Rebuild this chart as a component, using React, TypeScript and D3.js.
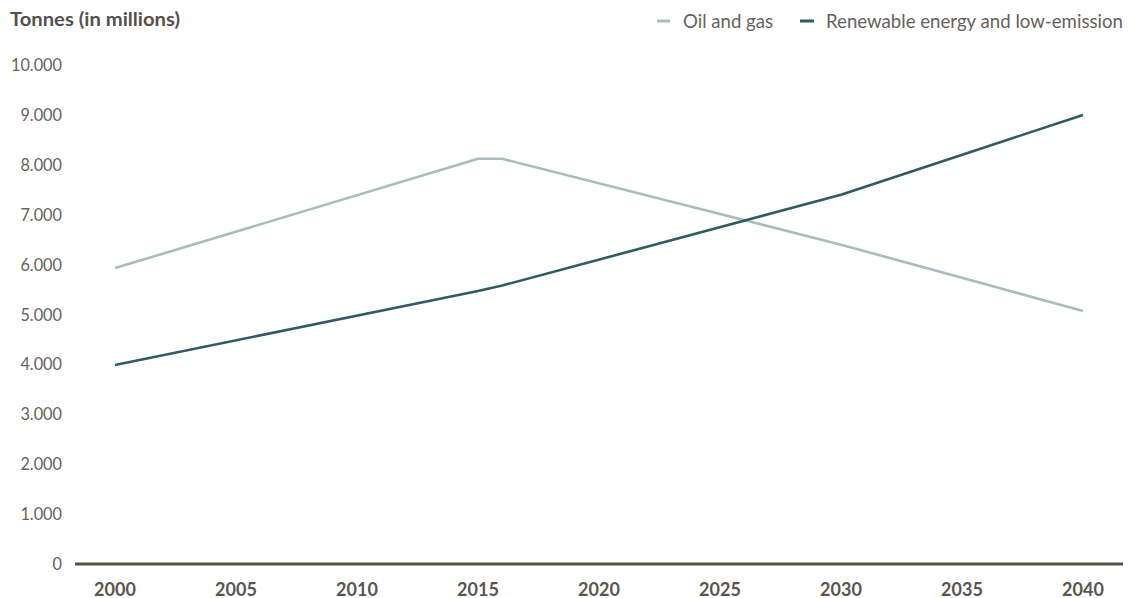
import React from "react";
import * as d3 from "d3";

const years = [2000, 2015, 2016, 2030, 2040];
const oilGas = [5930, 8120, 8120, 6400, 5070];
const renewable = [3990, 5470, 5580, 7400, 9000];
const xTicks = [2000, 2005, 2010, 2015, 2020, 2025, 2030, 2035, 2040];
const yTicks = [0, 1000, 2000, 3000, 4000, 5000, 6000, 7000, 8000, 9000, 10000];
const seriesNames = ["Oil and gas", "Renewable energy and low-emission"];
const colors = ["#abbcbd", "#2e5d60"];

const W = 1141;
const H = 598;
const FONT = "Lato, 'Open Sans', sans-serif";

export default function App() {
  const x = d3.scaleLinear().domain([2000, 2040]).range([115, 1083]);
  const y = d3.scaleLinear().domain([0, 10000]).range([564, 65]);
  const fmt = (v: number) =>
    v === 0 ? "0" : d3.format(",")(v).replace(/,/g, ".");
  const line = d3
    .line<[number, number]>()
    .x((d) => x(d[0]))
    .y((d) => y(d[1]));
  const series = [oilGas, renewable];
  return (
    <svg
      width={W}
      height={H}
      style={{ position: "absolute", left: 0, top: 0, background: "#fff" }}
      fontFamily={FONT}
    >
      <text
        x={10}
        y={26}
        fontSize={18}
        fontWeight={700}
        fill="#55504b"
        textLength={170}
        lengthAdjust="spacingAndGlyphs"
      >
        Tonnes (in millions)
      </text>
      {yTicks.map((t) => (
        <text
          key={t}
          x={62}
          y={y(t) + 6}
          textAnchor="end"
          fontSize={16.3}
          fill="#67625d"
        >
          {fmt(t)}
        </text>
      ))}
      {xTicks.map((t) => (
        <text
          key={t}
          x={x(t)}
          y={595.5}
          textAnchor="middle"
          fontSize={18}
          fontWeight={700}
          fill="#5a5550"
        >
          {t}
        </text>
      ))}
      {series.map((s, i) => (
        <path
          key={i}
          d={line(years.map((yr, j) => [yr, s[j]] as [number, number])) || ""}
          fill="none"
          stroke={colors[i]}
          strokeWidth={2.6}
          strokeLinejoin="round"
        />
      ))}
      <line x1={75} x2={1123} y1={y(0)} y2={y(0)} stroke="#55514c" strokeWidth={3} />
      {/* legend */}
      <line x1={657} x2={670} y1={21} y2={21} stroke={colors[0]} strokeWidth={3} />
      <text x={683} y={27.5} fontSize={18.6} fill="#67625d">
        {seriesNames[0]}
      </text>
      <line x1={800} x2={814} y1={21} y2={21} stroke={colors[1]} strokeWidth={3} />
      <text x={826} y={27.5} fontSize={18.6} fill="#67625d" textLength={297} lengthAdjust="spacingAndGlyphs">
        {seriesNames[1]}
      </text>
    </svg>
  );
}
